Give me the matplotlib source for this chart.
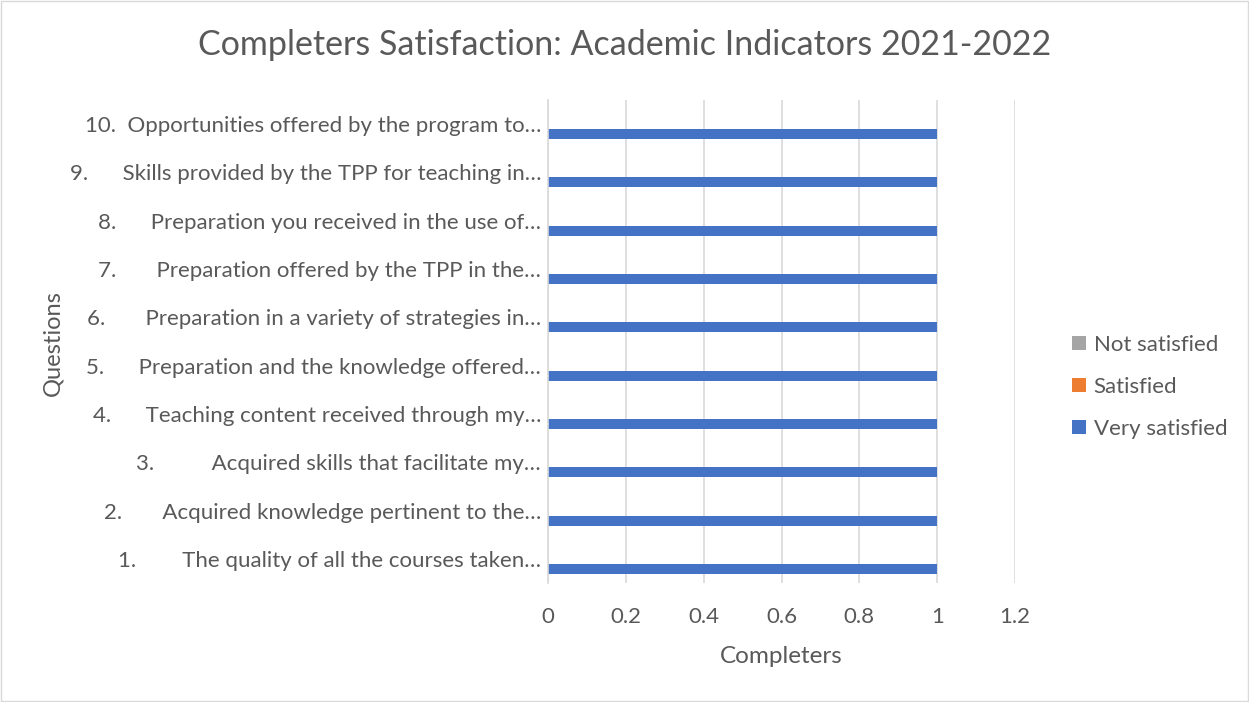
import numpy as np
import matplotlib.pyplot as plt
from matplotlib.patches import Rectangle

plt.rcParams['font.family'] = ['Lato', 'DejaVu Sans']

questions = [
    "1." + " " * 8 + "The quality of all the courses taken\u2026",
    "2." + " " * 7 + "Acquired knowledge pertinent to the\u2026",
    "3." + " " * 10 + "Acquired skills that facilitate my\u2026",
    "4." + " " * 6 + "Teaching content received through my\u2026",
    "5." + " " * 6 + "Preparation and the knowledge offered\u2026",
    "6." + " " * 7 + "Preparation in a variety of strategies in\u2026",
    "7." + " " * 7 + "Preparation offered by the TPP in the\u2026",
    "8." + " " * 6 + "Preparation you received in the use of\u2026",
    "9." + " " * 6 + "Skills provided by the TPP for teaching in\u2026",
    "10." + " " * 2 + "Opportunities offered by the program to\u2026",
]
very_satisfied = [1, 1, 1, 1, 1, 1, 1, 1, 1, 1]
satisfied = [0, 0, 0, 0, 0, 0, 0, 0, 0, 0]
not_satisfied = [0, 0, 0, 0, 0, 0, 0, 0, 0, 0]

text_col = '#595959'
fig = plt.figure(figsize=(12.49, 7.02), dpi=100)
ax = fig.add_axes([0.4388, 0.1695, 0.3739, 0.688])

y = np.arange(len(questions))
h = 0.207
b1 = ax.barh(y - h, very_satisfied, height=h, color='#4472C4', label='Very satisfied')
b2 = ax.barh(y, satisfied, height=h, color='#ED7D31', label='Satisfied')
b3 = ax.barh(y + h, not_satisfied, height=h, color='#A5A5A5', label='Not satisfied')

ax.set_xlim(0, 1.2)
ax.set_ylim(-0.5, len(questions) - 0.5)
ax.set_xticks([0, 0.2, 0.4, 0.6, 0.8, 1, 1.2])
ax.set_xticklabels(['0', '0.2', '0.4', '0.6', '0.8', '1', '1.2'])
ax.set_yticks(y)
ax.set_yticklabels(questions)
ax.tick_params(axis='both', length=0, labelsize=16, colors=text_col)
ax.tick_params(axis='x', pad=17)
ax.tick_params(axis='y', pad=5)
ax.grid(axis='x', color='#d9d9d9', linewidth=1.2)
ax.set_axisbelow(True)
for s in ['top', 'right', 'bottom']:
    ax.spines[s].set_visible(False)
ax.spines['left'].set_color('#d9d9d9')
ax.spines['left'].set_linewidth(1.2)

ax.set_xlabel('Completers', fontsize=17.5, color=text_col, labelpad=14)
fig.text(0.042, 0.512, 'Questions', rotation=90, fontsize=17, color=text_col,
         ha='center', va='center')
fig.suptitle('Completers Satisfaction: Academic Indicators 2021-2022', fontsize=24.5,
             color=text_col, y=0.958)

ax.legend(handles=[b3, b2, b1], loc='center left', bbox_to_anchor=(1.08, 0.406),
          frameon=False, fontsize=16, labelcolor=text_col, handlelength=0.6,
          handleheight=0.6, handletextpad=0.35, labelspacing=1.0)

fig.patches.append(Rectangle((0.001, 0.001), 0.998, 0.998, transform=fig.transFigure,
                             fill=False, edgecolor='#d9d9d9', linewidth=1))
fig.savefig('out.png', dpi=100)
